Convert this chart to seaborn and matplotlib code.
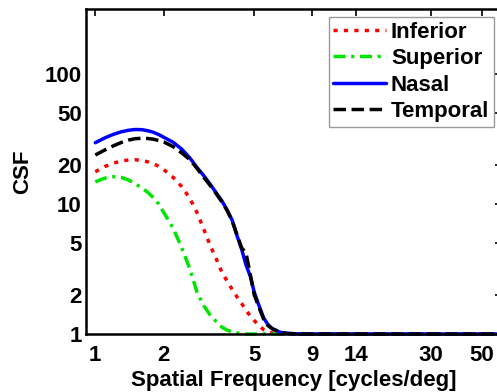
import numpy as np
import pandas as pd
import matplotlib
matplotlib.use('Agg')
import matplotlib.pyplot as plt
import seaborn as sns

# frequencias (cycles/deg) e CSF
freq = [1.0, 1.1, 1.2, 1.3, 1.4, 1.5, 1.6, 1.7, 1.8, 1.9, 2.0, 2.2, 2.4, 2.6, 2.8,
        3.0, 3.2, 3.4, 3.6, 3.8, 4.0, 4.2, 4.4, 4.6, 4.8, 5.0, 5.25, 5.5, 5.75,
        6.0, 6.5, 7.0, 8.0, 10.0, 14.0, 20.0, 30.0, 50.0, 61.0]

inferior = [17.7, 19.4, 20.6, 21.4, 21.8, 21.9, 21.6, 21.1, 20.4, 19.5, 18.4, 16.0, 13.6,
            11.1, 8.6, 6.4, 4.8, 3.8, 3.0, 2.55, 2.2, 1.93, 1.72, 1.52, 1.38, 1.27, 1.16,
            1.08, 1.04, 1.02, 1.0, 1.0, 1.0, 1.0, 1.0, 1.0, 1.0, 1.0, 1.0]
superior = [14.8, 15.8, 16.2, 16.0, 15.3, 14.3, 13.3, 12.3, 11.2, 10.0, 8.6, 6.5, 4.6,
            3.2, 2.1, 1.65, 1.4, 1.25, 1.13, 1.07, 1.04, 1.02, 1.01, 1.0, 1.0, 1.0, 1.0,
            1.0, 1.0, 1.0, 1.0, 1.0, 1.0, 1.0, 1.0, 1.0, 1.0, 1.0, 1.0]
nasal = [29.6, 32.2, 34.3, 35.9, 36.9, 37.4, 37.3, 36.6, 35.6, 34.2, 32.6, 29.8, 26.4,
         22.7, 19.1, 16.5, 14.2, 12.2, 10.6, 9.0, 7.5, 5.7, 4.5, 3.4, 2.8, 2.1, 1.65,
         1.33, 1.18, 1.1, 1.03, 1.01, 1.0, 1.0, 1.0, 1.0, 1.0, 1.0, 1.0]
temporal = [23.8, 26.0, 28.0, 29.7, 31.0, 31.8, 32.0, 31.9, 31.5, 30.8, 30.0, 27.6, 24.7,
            22.0, 18.8, 16.0, 13.9, 12.0, 10.4, 8.9, 7.4, 5.8, 4.6, 4.2, 2.9, 2.0, 1.6,
            1.3, 1.16, 1.1, 1.03, 1.01, 1.0, 1.0, 1.0, 1.0, 1.0, 1.0, 1.0]

xticks = [1, 2, 5, 9, 14, 30, 50]
yticks = [1, 2, 5, 10, 20, 50, 100]

sns.set_style('white')
plt.rcParams['font.family'] = ['Liberation Sans', 'DejaVu Sans']
plt.rcParams['font.weight'] = 'bold'
plt.rcParams['text.color'] = 'black'
plt.rcParams['axes.labelcolor'] = 'black'
plt.rcParams['xtick.color'] = 'black'
plt.rcParams['ytick.color'] = 'black'

fig = plt.figure(figsize=(4.97, 3.92), dpi=100)
ax = fig.add_axes([86/497, 58/392, 416/497, 325/392])

series = [('Inferior', inferior, (1, 0, 0), (0, (1.2, 1.8))),
          ('Superior', superior, (0, 0.9, 0), (0, (3.5, 1.6, 0.9, 1.6))),
          ('Nasal', nasal, (0, 0, 1), '-'),
          ('Temporal', temporal, (0, 0, 0), (0, (3.6, 1.6)))]

for name, vals, col, ls in series:
    df = pd.DataFrame({'freq': freq, 'csf': vals})
    sns.lineplot(data=df, x='freq', y='csf', color=col, linestyle=ls,
                 linewidth=2.5, label=name, ax=ax, clip_on=False)

ax.set_xscale('log')
ax.set_yscale('log')
ax.set_xlim(0.91, 61.5)
ax.set_ylim(1, 316)

ax.set_xticks(xticks)
ax.set_xticklabels([str(t) for t in xticks])
ax.xaxis.set_minor_locator(matplotlib.ticker.NullLocator())
ax.set_yticks(yticks)
ax.set_yticklabels([str(t) for t in yticks])
ax.yaxis.set_minor_formatter(matplotlib.ticker.NullFormatter())

ax.tick_params(which='both', direction='in', top=True, right=True,
               labelsize=16, width=1.2, color='black')
ax.tick_params(which='major', length=5)
ax.tick_params(which='minor', length=3)
ax.tick_params(axis='x', pad=8)
ax.tick_params(axis='y', pad=3)
for lab in ax.get_xticklabels() + ax.get_yticklabels():
    lab.set_fontweight('bold')

for sp in ax.spines.values():
    sp.set_color('black')
    sp.set_linewidth(1.8)

ax.set_xlabel('Spatial Frequency [cycles/deg]', fontsize=16, fontweight='bold', labelpad=3)
ax.set_ylabel('CSF', fontsize=16, fontweight='bold', labelpad=8)

leg = ax.legend(loc='upper right', bbox_to_anchor=(0.98, 0.975), borderaxespad=0,
                fontsize=16, frameon=True, fancybox=False, handlelength=2.4,
                handletextpad=0.2, labelspacing=0.25, borderpad=0.2)
leg.get_frame().set_edgecolor('#808080')
leg.get_frame().set_linewidth(1.0)
for t in leg.get_texts():
    t.set_fontweight('bold')

fig.savefig('out.png', dpi=100)
